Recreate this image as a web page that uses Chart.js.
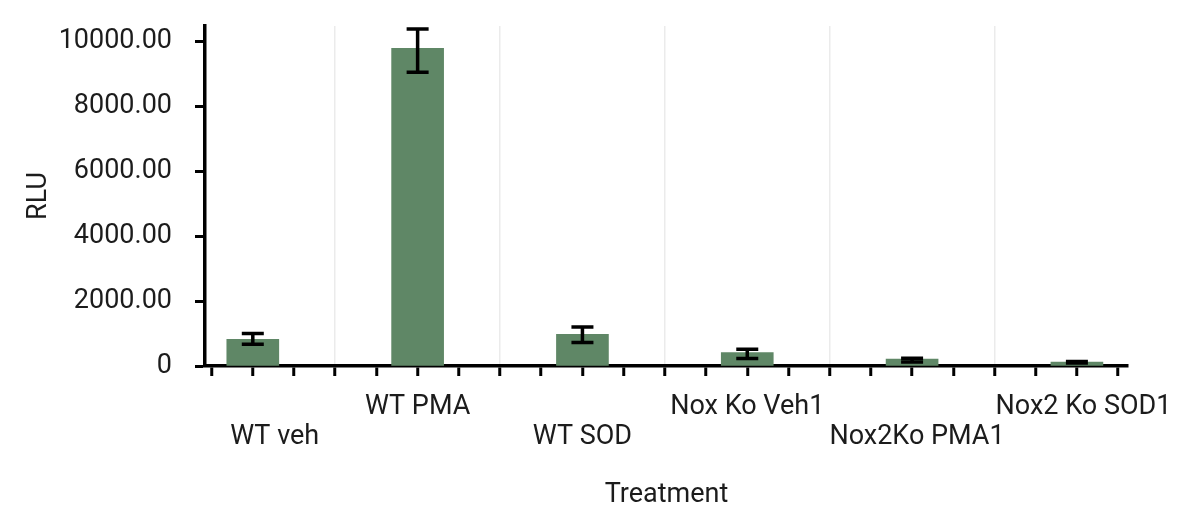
<!DOCTYPE html>
<html>
<head>
<meta charset="utf-8">
<script src="https://cdn.jsdelivr.net/npm/chart.js@4.4.1/dist/chart.umd.min.js"></script>
<style>
  html, body { margin: 0; padding: 0; background: #ffffff; }
  #wrap { width: 1200px; height: 526px; }
</style>
</head>
<body>
<div id="wrap"><canvas id="c" width="1200" height="526"></canvas></div>
<script>
// ---- data ----
const categories = ['WT veh', 'WT PMA', 'WT SOD', 'Nox Ko Veh1', 'Nox2Ko PMA1', 'Nox2 Ko SOD1'];
const meanRLU   = [824, 9796, 978, 413, 216, 123];
const errHigh   = [1000, 10392, 1204, 515, 240, 135];
const errLow    = [670, 9056, 722, 228, 120, 95];
const yTickValues = [0, 2000, 4000, 6000, 8000, 10000];
const yTickLabels = ['0', '2000.00', '4000.00', '6000.00', '8000.00', '10000.00'];

// ---- presentation ----
const FONT = 'Roboto, "Noto Sans", "DejaVu Sans", sans-serif';
const TEXT = '#1c1c1c';
const BAR = 'rgb(95,135,102)';
const labelShift = [0.133, 0, 0, 0, 0.03, 0.04]; // horizontal label nudge, in category units

const xTicks = [];
for (let k = -1; k <= 21; k++) xTicks.push(k / 4);
const labelPos = categories.map((c, i) => i + labelShift[i]);
labelPos.forEach(p => { if (!xTicks.some(v => Math.abs(v - p) < 1e-6)) xTicks.push(p); });
xTicks.sort((a, b) => a - b);

function labelAt(v) {
  for (let i = 0; i < labelPos.length; i++) {
    if (Math.abs(v - labelPos[i]) < 1e-6) return i;
  }
  return -1;
}
function isQuarter(v) { return Math.abs(v * 4 - Math.round(v * 4)) < 1e-6; }
function zeroPad(scale) {
  scale.paddingTop = 0; scale.paddingBottom = 0;
  scale.paddingLeft = 0; scale.paddingRight = 0;
}

const errorBars = {
  id: 'errorBars',
  afterDatasetsDraw(chart) {
    const meta = chart.getDatasetMeta(0);
    const y = chart.scales.y;
    const ctx = chart.ctx;
    ctx.save();
    ctx.strokeStyle = '#000';
    ctx.lineWidth = 3.5;
    ctx.lineCap = 'butt';
    meta.data.forEach((bar, i) => {
      const x = bar.x;
      const yt = y.getPixelForValue(errHigh[i]);
      const yb = y.getPixelForValue(errLow[i]);
      const hw = 11;
      ctx.beginPath();
      ctx.moveTo(x, yt); ctx.lineTo(x, yb);
      ctx.moveTo(x - hw, yt); ctx.lineTo(x + hw, yt);
      ctx.moveTo(x - hw, yb); ctx.lineTo(x + hw, yb);
      ctx.stroke();
    });
    ctx.restore();
  }
};

new Chart(document.getElementById('c'), {
  type: 'bar',
  data: {
    datasets: [{
      label: 'RLU',
      data: meanRLU.map((v, i) => ({ x: i, y: v })),
      backgroundColor: BAR,
      borderWidth: 0,
      barThickness: 52
    }]
  },
  options: {
    responsive: false,
    animation: false,
    devicePixelRatio: 1,
    layout: { padding: { top: 26, right: 72, left: 0, bottom: 0 } },
    plugins: { legend: { display: false }, tooltip: { enabled: false } },
    scales: {
      x: {
        type: 'linear',
        offset: false,
        min: -0.29,
        max: 5.31,
        afterBuildTicks(scale) { scale.ticks = xTicks.map(v => ({ value: v })); },
        afterFit(scale) { scale.height = 160; zeroPad(scale); },
        border: { display: true, color: '#000', width: 3.5 },
        grid: {
          offset: false,
          drawOnChartArea: true,
          drawTicks: true,
          tickLength: 10,
          tickWidth: 3,
          lineWidth: 1.5,
          color: (ctx) => (ctx.tick && Math.abs((ctx.tick.value % 1) - 0.5) < 1e-6) ? '#ebebeb' : 'rgba(0,0,0,0)',
          tickColor: (ctx) => (ctx.tick && isQuarter(ctx.tick.value)) ? '#000' : 'rgba(0,0,0,0)'
        },
        ticks: {
          autoSkip: false,
          maxRotation: 0,
          minRotation: 0,
          padding: 16,
          color: TEXT,
          font: { family: FONT, size: 27, lineHeight: 1.12 },
          callback: (value) => {
            const i = labelAt(value);
            if (i < 0) return '';
            return i % 2 === 0 ? ['', categories[i]] : [categories[i]];
          }
        },
        title: {
          display: true,
          text: 'Treatment',
          color: TEXT,
          font: { family: FONT, size: 27, lineHeight: 1.2 },
          padding: { top: 0, bottom: 15 }
        }
      },
      y: {
        min: 0,
        max: 10485,
        afterBuildTicks(scale) { scale.ticks = yTickValues.map(v => ({ value: v })); },
        afterFit(scale) { scale.width = 205; zeroPad(scale); },
        border: { display: true, color: '#000', width: 3.5 },
        grid: {
          drawOnChartArea: false,
          drawTicks: true,
          tickLength: 10,
          tickWidth: 3,
          tickColor: '#000'
        },
        ticks: {
          padding: 23,
          color: TEXT,
          font: { family: FONT, size: 27 },
          callback: (value) => {
            const i = yTickValues.indexOf(value);
            return i >= 0 ? yTickLabels[i] : '';
          }
        },
        title: {
          display: true,
          text: 'RLU',
          color: TEXT,
          font: { family: FONT, size: 27, lineHeight: 1.2 },
          padding: { top: 23, bottom: 0 }
        }
      }
    }
  },
  plugins: [errorBars]
});
</script>
</body>
</html>
